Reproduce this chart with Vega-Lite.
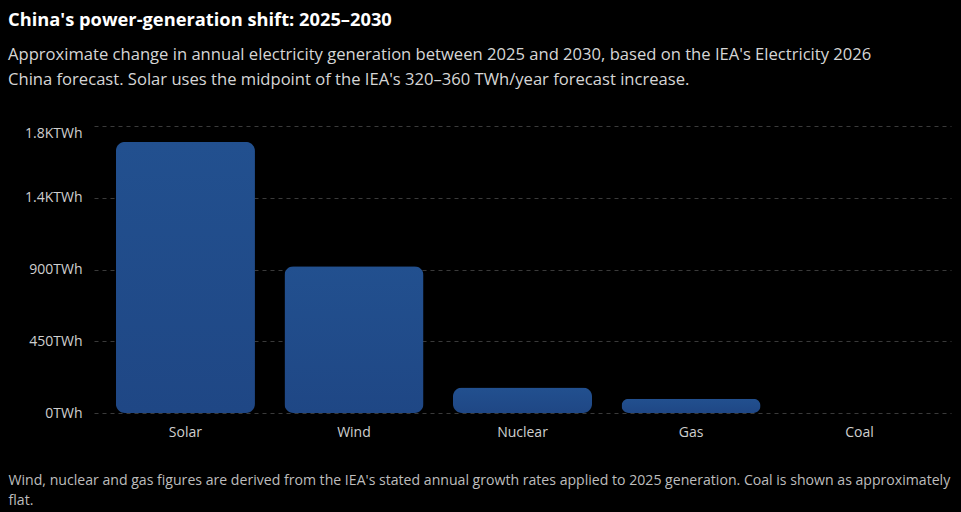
{
  "$schema": "https://vega.github.io/schema/vega-lite/v6.json",
  "width": 857,
  "height": 287,
  "autosize": "none",
  "padding": {"top": 126, "left": 94, "right": 10, "bottom": 99},
  "background": "#000000",
  "title": {
    "text": "China's power-generation shift: 2025–2030",
    "subtitle": ["Approximate change in annual electricity generation between 2025 and 2030, based on the IEA's Electricity 2026", "China forecast. Solar uses the midpoint of the IEA's 320–360 TWh/year forecast increase."],
    "anchor": "start",
    "frame": "group",
    "dx": -86,
    "offset": 36,
    "font": "Open Sans",
    "fontSize": 18.3,
    "fontWeight": "bold",
    "color": "#ffffff",
    "subtitleFont": "Open Sans",
    "subtitleFontSize": 16.6,
    "subtitleColor": "#d6d6d6",
    "subtitlePadding": 17,
    "subtitleLineHeight": 25
  },
  "data": {
    "values": [
      {"source": "Solar", "change": 1700},
      {"source": "Wind", "change": 920},
      {"source": "Nuclear", "change": 160},
      {"source": "Gas", "change": 90},
      {"source": "Coal", "change": 0}
    ]
  },
  "mark": {
    "type": "bar",
    "cornerRadius": 9,
    "color": {
      "gradient": "linear",
      "x1": 0, "y1": 0, "x2": 0, "y2": 1,
      "stops": [
        {"offset": 0, "color": "#22508f"},
        {"offset": 1, "color": "#1f4785"}
      ]
    }
  },
  "encoding": {
    "x": {
      "field": "source",
      "type": "nominal",
      "sort": null,
      "scale": {"paddingInner": 0.175, "paddingOuter": 0.13},
      "axis": {
        "labelAngle": 0,
        "labelFont": "Open Sans",
        "labelFontSize": 14,
        "labelColor": "#cfcfcf",
        "labelPadding": 12,
        "ticks": false,
        "domain": false,
        "title": ["Wind, nuclear and gas figures are derived from the IEA's stated annual growth rates applied to 2025 generation. Coal is shown as approximately", "flat."],
        "titleFont": "Open Sans",
        "titleFontSize": 14.1,
        "titleFontWeight": "normal",
        "titleColor": "#bdbdbd",
        "titleAlign": "left",
        "titleBaseline": "top",
        "titleX": -86,
        "titleY": 60,
        "titleLineHeight": 20
      }
    },
    "y": {
      "field": "change",
      "type": "quantitative",
      "scale": {"domain": [0, 1800], "nice": false},
      "axis": {
        "values": [0, 450, 900, 1350, 1800],
        "labelExpr": "datum.value >= 1000 ? format(datum.value / 1000, '.1f') + 'KTWh' : datum.value + 'TWh'",
        "labelBaseline": {"condition": {"test": "datum.value == 1800", "value": "top"}, "value": "middle"},
        "labelFont": "Open Sans",
        "labelFontSize": 14,
        "labelColor": "#cfcfcf",
        "labelPadding": 12,
        "ticks": false,
        "domain": false,
        "grid": true,
        "gridColor": "#3a3a3a",
        "gridDash": [4, 4],
        "gridWidth": 1,
        "title": null
      }
    }
  },
  "config": {
    "view": {"stroke": null}
  }
}
